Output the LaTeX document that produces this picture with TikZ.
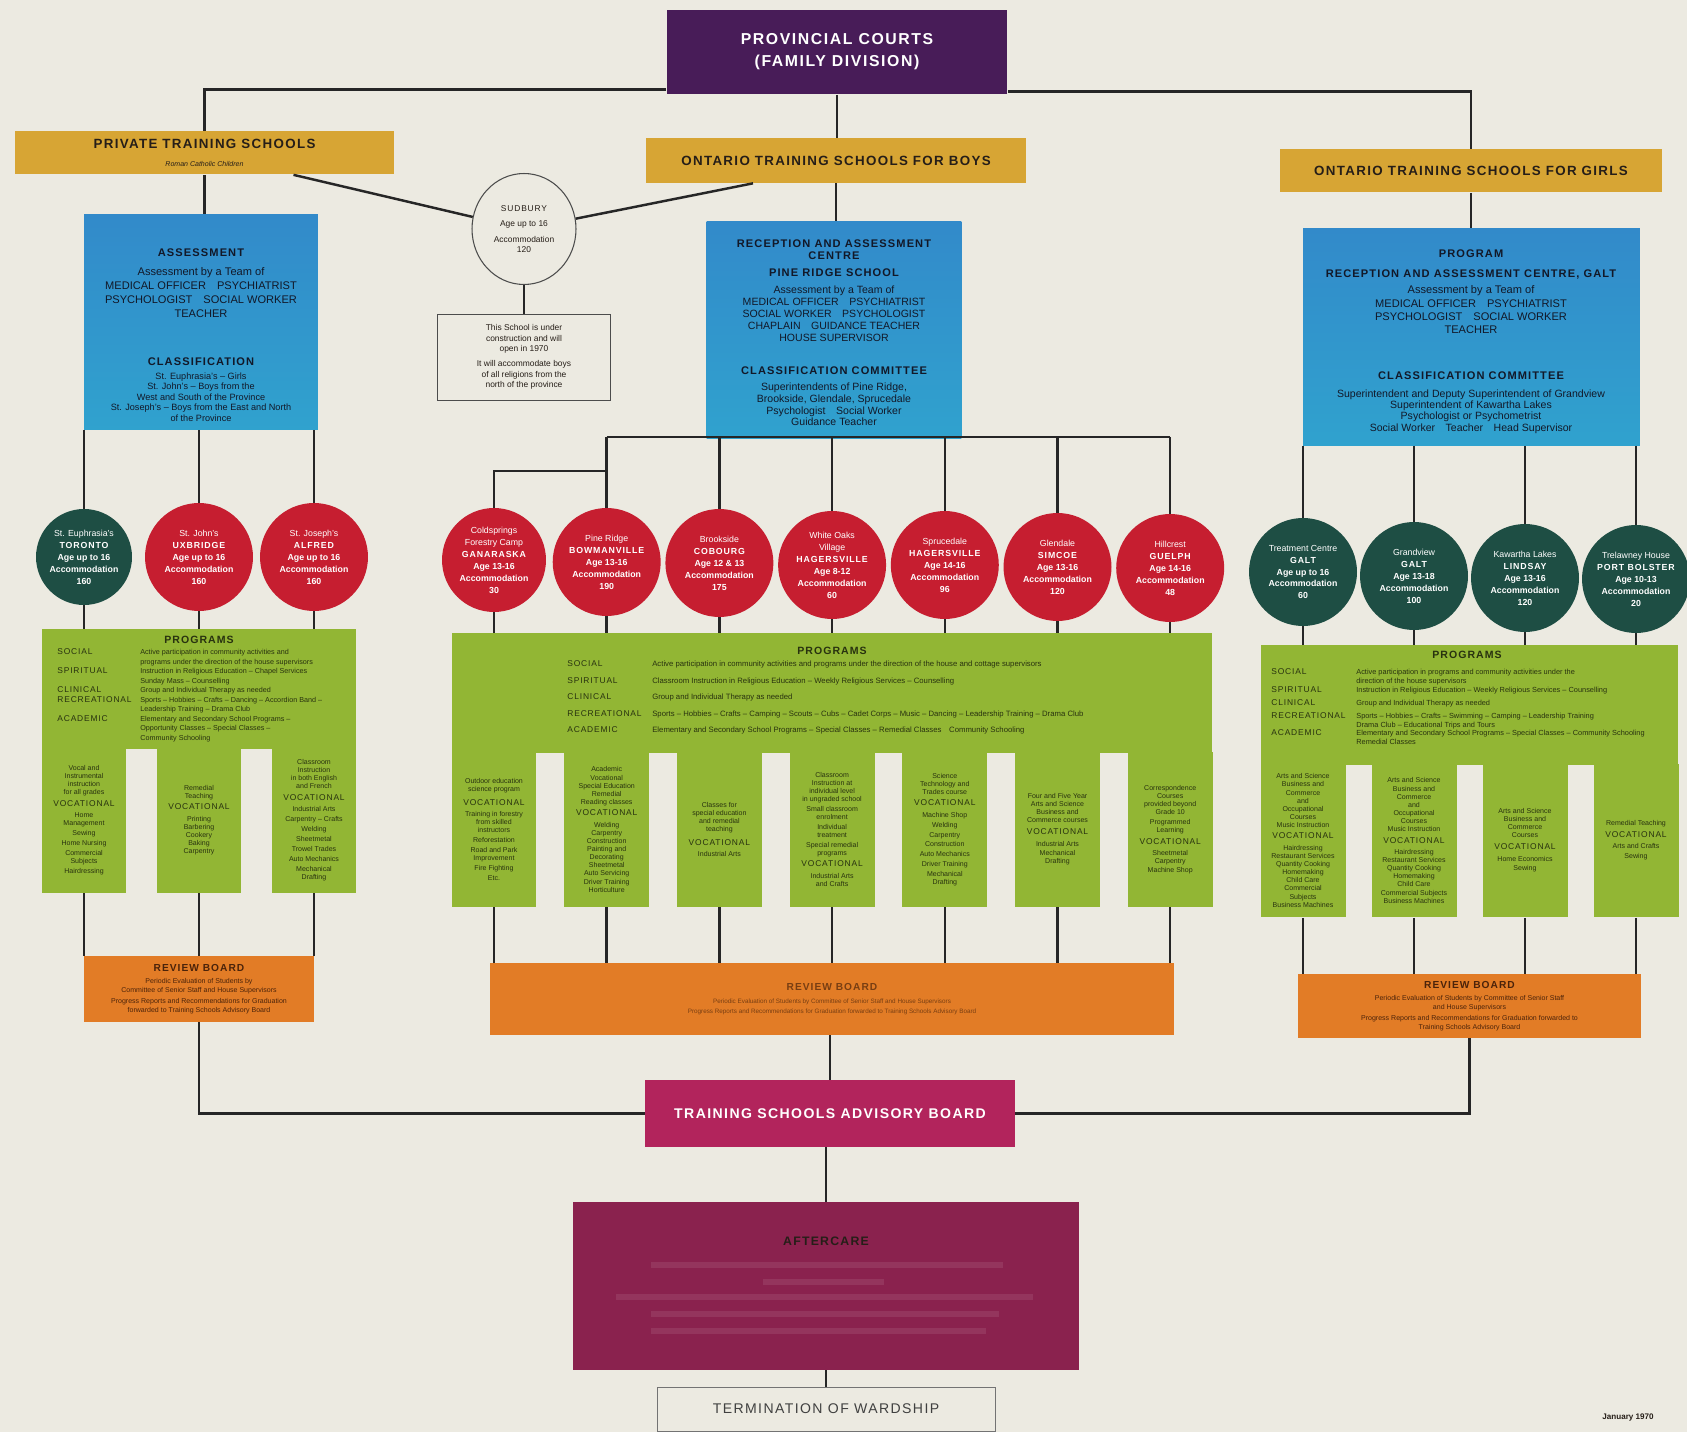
\documentclass[tikz,border=0pt]{standalone}
\usepackage{fontspec}
\setmainfont{Liberation Sans}
\newfontfamily\spaced[LetterSpace=10]{Liberation Sans}
\usepackage{xcolor}
\usepackage{array}
\usepackage{tikz}
\usetikzlibrary{arrows,backgrounds,calc,shapes.geometric}

\definecolor{paper}{RGB}{236,234,225}
\definecolor{courts}{RGB}{72,28,88}
\definecolor{gold}{RGB}{215,165,52}
\definecolor{blueA}{RGB}{50,138,202}
\definecolor{blueB}{RGB}{48,162,206}
\definecolor{schoolred}{RGB}{198,30,48}
\definecolor{schoolgreen}{RGB}{30,78,68}
\definecolor{progreen}{RGB}{146,182,52}
\definecolor{review}{RGB}{226,124,38}
\definecolor{advisory}{RGB}{178,36,92}
\definecolor{aftercare}{RGB}{138,34,78}
\definecolor{ink}{RGB}{38,30,24}
\definecolor{blueink}{RGB}{18,24,40}
\definecolor{greenink}{RGB}{40,50,15}
\definecolor{brownink}{RGB}{75,35,10}

\newcommand{\setfs}[2]{\fontsize{#1}{#2}\selectfont}
\newcommand{\boxhead}[1]{{\spaced\bfseries\setfs{6.3}{7.5}#1}}
\newcommand{\placename}[1]{{\spaced\setfs{5}{6.8}#1}}
\newcommand{\vocline}{{\spaced\setfs{4.8}{5.4}VOCATIONAL}}
\newcommand{\progtitle}{{\spaced\bfseries\setfs{6}{7}PROGRAMS}}
\newcommand{\revtitle}{{\spaced\bfseries\setfs{5.8}{7}REVIEW BOARD}}

\begin{document}
\begin{tikzpicture}[x=0.02cm,y=-0.02cm,
  link/.style={line width=1.4pt,draw=black!85},
  courtbox/.style={fill=courts,text=white,minimum width=6.82cm,minimum height=1.7cm,align=center,font=\spaced\bfseries\setfs{9}{12.5}},
  headbox/.style={fill=gold,text=ink,minimum height=0.86cm,inner sep=1pt,align=center,font=\spaced\bfseries\setfs{7.6}{9}},
  assessbox/.style={top color=blueA,bottom color=blueB,inner sep=0pt},
  bluetext/.style={text=blueink,align=center,inner sep=0pt,anchor=north},
  school/.style={circle,minimum size=2.16cm,inner sep=0pt,text=white,align=center,font=\bfseries\setfs{5}{6.8}},
  redschool/.style={school,fill=schoolred},
  greenschool/.style={school,fill=schoolgreen},
  progblock/.style={fill=progreen,inner sep=0pt,minimum height=2.4cm},
  progcol/.style={fill=progreen,inner sep=0pt,text=greenink,align=center,minimum width=1.7cm,font=\setfs{4}{4.6}},
  progtable/.style={anchor=north west,inner sep=0pt,text=greenink},
  reviewbox/.style={fill=review,text=brownink,align=center,inner sep=0pt,font=\setfs{4}{5}},
  outline/.style={draw=black!70,line width=0.5pt,fill=paper}
]
\useasboundingbox (0,0) rectangle (1687,1432);
\fill[paper] (0,0) rectangle (1687,1432);

\node[courtbox] (courts) at (837,52) {PROVINCIAL COURTS\\(FAMILY DIVISION)};
\node[headbox,minimum width=7.58cm] (private) at (204.5,153) {PRIVATE TRAINING SCHOOLS\\[1pt]{\normalfont\itshape\setfs{4}{5}Roman Catholic Children}};
\node[headbox,minimum width=7.6cm,minimum height=0.9cm] (boys) at (836,160.5) {ONTARIO TRAINING SCHOOLS FOR BOYS};
\node[headbox,minimum width=7.64cm] (girls) at (1471,171) {ONTARIO TRAINING SCHOOLS FOR GIRLS};

\node[ellipse,outline,line width=0.6pt,minimum width=2.08cm,minimum height=2.22cm,inner sep=0pt,align=center,text=ink,font=\setfs{4.8}{5.8}] (sudbury) at (524,229) {{\spaced SUDBURY}\\[3pt]Age up to 16\\[3pt]Accommodation\\120};
\node[outline,minimum width=3.46cm,minimum height=1.72cm,align=center,text=ink,font=\setfs{4.8}{6}] (note) at (524,357) {This School is under\\construction and will\\open in 1970\\[2.5pt]It will accommodate boys\\of all religions from the\\north of the province};

\node[assessbox,minimum width=4.68cm,minimum height=4.32cm] (assessL) at (201,322) {};
\node[bluetext,font=\setfs{6.3}{8}] (assessLtxt) at (201,248) {\boxhead{ASSESSMENT}\\[3pt]Assessment by a Team of\\MEDICAL OFFICER\quad PSYCHIATRIST\\PSYCHOLOGIST\quad SOCIAL WORKER\\TEACHER};
\node[bluetext,font=\setfs{5.2}{6}] (classLtxt) at (201,357) {\boxhead{CLASSIFICATION}\\[2pt]St. Euphrasia's – Girls\\St. John's – Boys from the\\West and South of the Province\\St. Joseph's – Boys from the East and North\\of the Province};

\node[assessbox,minimum width=5.1cm,minimum height=4.36cm] (assessC) at (834,330) {};
\node[bluetext,font=\setfs{6}{6.8}] (assessCtxt) at (834,239) {\boxhead{RECEPTION AND ASSESSMENT}\\\boxhead{CENTRE}\\[3pt]\boxhead{PINE RIDGE SCHOOL}\\[3pt]Assessment by a Team of\\MEDICAL OFFICER\quad PSYCHIATRIST\\SOCIAL WORKER\quad PSYCHOLOGIST\\CHAPLAIN\quad GUIDANCE TEACHER\\HOUSE SUPERVISOR};
\node[bluetext,font=\setfs{6}{6.6}] (classCtxt) at (834,366) {\boxhead{CLASSIFICATION COMMITTEE}\\[3pt]Superintendents of Pine Ridge,\\Brookside, Glendale, Sprucedale\\Psychologist\quad Social Worker\\Guidance Teacher};

\node[assessbox,minimum width=6.74cm,minimum height=4.34cm] (assessR) at (1471.5,337) {};
\node[bluetext,font=\setfs{6.3}{7.5}] (assessRtxt) at (1471,249) {\boxhead{PROGRAM}\\[4pt]\boxhead{RECEPTION AND ASSESSMENT CENTRE, GALT}\\[2pt]Assessment by a Team of\\MEDICAL OFFICER\quad PSYCHIATRIST\\PSYCHOLOGIST\quad SOCIAL WORKER\\TEACHER};
\node[bluetext,font=\setfs{6}{6.4}] (classRtxt) at (1471,371) {\boxhead{CLASSIFICATION COMMITTEE}\\[4pt]Superintendent and Deputy Superintendent of Grandview\\Superintendent of Kawartha Lakes\\Psychologist or Psychometrist\\Social Worker\quad Teacher\quad Head Supervisor};

\node[greenschool,minimum size=1.92cm] (euphrasia) at (84,557) {{\mdseries St. Euphrasia's}\\\placename{TORONTO}\\Age up to 16\\Accommodation\\160};
\node[redschool] (john) at (199,557) {{\mdseries St. John's}\\\placename{UXBRIDGE}\\Age up to 16\\Accommodation\\160};
\node[redschool] (joseph) at (314,557) {{\mdseries St. Joseph's}\\\placename{ALFRED}\\Age up to 16\\Accommodation\\160};

\node[redschool,minimum size=2.08cm] (cold) at (494,560) {{\mdseries Coldsprings}\\{\mdseries Forestry Camp}\\\placename{GANARASKA}\\Age 13-16\\Accommodation\\30};
\node[redschool] (pine) at (606.7,562) {{\mdseries Pine Ridge}\\\placename{BOWMANVILLE}\\Age 13-16\\Accommodation\\190};
\node[redschool] (brook) at (719.4,563) {{\mdseries Brookside}\\\placename{COBOURG}\\Age 12 \& 13\\Accommodation\\175};
\node[redschool] (oaks) at (832.1,565) {{\mdseries White Oaks}\\{\mdseries Village}\\\placename{HAGERSVILLE}\\Age 8-12\\Accommodation\\60};
\node[redschool] (spruce) at (944.8,565) {{\mdseries Sprucedale}\\\placename{HAGERSVILLE}\\Age 14-16\\Accommodation\\96};
\node[redschool] (glen) at (1057.5,567) {{\mdseries Glendale}\\\placename{SIMCOE}\\Age 13-16\\Accommodation\\120};
\node[redschool] (hill) at (1170.2,568) {{\mdseries Hillcrest}\\\placename{GUELPH}\\Age 14-16\\Accommodation\\48};

\node[greenschool] (treat) at (1303,572) {{\mdseries Treatment Centre}\\\placename{GALT}\\Age up to 16\\Accommodation\\60};
\node[greenschool] (grand) at (1414,576) {{\mdseries Grandview}\\\placename{GALT}\\Age 13-18\\Accommodation\\100};
\node[greenschool] (kawartha) at (1525,578) {{\mdseries Kawartha Lakes}\\\placename{LINDSAY}\\Age 13-16\\Accommodation\\120};
\node[greenschool] (trelawney) at (1636,579) {{\mdseries Trelawney House}\\\placename{PORT BOLSTER}\\Age 10-13\\Accommodation\\20};

\node[progblock,minimum width=6.3cm] (progL) at (199,689) {};
\node[progcol,minimum height=2.92cm] (colL1) at (84,820) {Vocal and\\Instrumental\\instruction\\for all grades\\[2pt]\vocline\\[2pt]Home\\Management\\[1pt]Sewing\\[1pt]Home Nursing\\[1pt]Commercial\\Subjects\\[1pt]Hairdressing};
\node[progcol,minimum height=2.92cm] (colL2) at (199,820) {Remedial\\Teaching\\[2pt]\vocline\\[2pt]Printing\\Barbering\\Cookery\\Baking\\Carpentry};
\node[progcol,minimum height=2.92cm] (colL3) at (314,820) {Classroom\\Instruction\\in both English\\and French\\[2pt]\vocline\\[2pt]Industrial Arts\\[1pt]Carpentry – Crafts\\[1pt]Welding\\[1pt]Sheetmetal\\[1pt]Trowel Trades\\[1pt]Auto Mechanics\\[1pt]Mechanical\\Drafting};
\node[text=greenink,inner sep=0pt] (progLtitle) at (199,640) {\progtitle};
\node[progtable,font=\setfs{4.1}{5.4}] (tabL) at (57,648) {%
\begin{tabular}{@{}>{\spaced\setfs{4.8}{5.4}}p{1.66cm}@{}>{\raggedright\arraybackslash}p{4.3cm}@{}}
SOCIAL & Active participation in community activities and\newline programs under the direction of the house supervisors\\
SPIRITUAL & Instruction in Religious Education – Chapel Services\newline Sunday Mass – Counselling\\
CLINICAL & Group and Individual Therapy as needed\\
RECREATIONAL & Sports – Hobbies – Crafts – Dancing – Accordion Band –\newline Leadership Training – Drama Club\\
ACADEMIC & Elementary and Secondary School Programs –\newline Opportunity Classes – Special Classes –\newline Community Schooling
\end{tabular}};

\node[progblock,minimum width=15.22cm] (progC) at (832,693) {};
\node[progcol,minimum height=3.1cm] (colC1) at (494,829.5) {Outdoor education\\science program\\[3pt]\vocline\\[2pt]Training in forestry\\from skilled\\instructors\\[1pt]Reforestation\\[1pt]Road and Park\\Improvement\\[1pt]Fire Fighting\\[1pt]Etc.};
\node[progcol,minimum height=3.1cm] (colC2) at (606.7,829.5) {Academic\\Vocational\\Special Education\\Remedial\\Reading classes\\[2pt]\vocline\\[2pt]Welding\\Carpentry\\Construction\\Painting and\\Decorating\\Sheetmetal\\Auto Servicing\\Driver Training\\Horticulture};
\node[progcol,minimum height=3.1cm] (colC3) at (719.4,829.5) {Classes for\\special education\\and remedial\\teaching\\[3pt]\vocline\\[2pt]Industrial Arts};
\node[progcol,minimum height=3.1cm] (colC4) at (832.1,829.5) {Classroom\\Instruction at\\individual level\\in ungraded school\\[1pt]Small classroom\\enrolment\\[1pt]Individual\\treatment\\[1pt]Special remedial\\programs\\[2pt]\vocline\\[2pt]Industrial Arts\\and Crafts};
\node[progcol,minimum height=3.1cm] (colC5) at (944.8,829.5) {Science\\Technology and\\Trades course\\[2pt]\vocline\\[2pt]Machine Shop\\[1pt]Welding\\[1pt]Carpentry\\[1pt]Construction\\[1pt]Auto Mechanics\\[1pt]Driver Training\\[1pt]Mechanical\\Drafting};
\node[progcol,minimum height=3.1cm] (colC6) at (1057.5,829.5) {Four and Five Year\\Arts and Science\\Business and\\Commerce courses\\[2pt]\vocline\\[2pt]Industrial Arts\\[1pt]Mechanical\\Drafting};
\node[progcol,minimum height=3.1cm] (colC7) at (1170.2,829.5) {Correspondence\\Courses\\provided beyond\\Grade 10\\[1pt]Programmed\\Learning\\[2pt]\vocline\\[2pt]Sheetmetal\\Carpentry\\Machine Shop};
\node[text=greenink,inner sep=0pt] (progCtitle) at (832,651) {\progtitle};
\node[progtable,font=\setfs{4.4}{9.4}] (tabC) at (567,655) {%
\begin{tabular}{@{}>{\spaced\setfs{4.8}{9.4}}p{1.7cm}@{}l@{}}
SOCIAL & Active participation in community activities and programs under the direction of the house and cottage supervisors\\
SPIRITUAL & Classroom Instruction in Religious Education – Weekly Religious Services – Counselling\\
CLINICAL & Group and Individual Therapy as needed\\
RECREATIONAL & Sports – Hobbies – Crafts – Camping – Scouts – Cubs – Cadet Corps – Music – Dancing – Leadership Training – Drama Club\\
ACADEMIC & Elementary and Secondary School Programs – Special Classes – Remedial Classes\quad Community Schooling
\end{tabular}};

\node[progblock,minimum width=8.36cm] (progR) at (1469.5,705) {};
\node[progcol,minimum height=3.08cm] (colR1) at (1303,840.5) {Arts and Science\\Business and\\Commerce\\and\\Occupational\\Courses\\Music Instruction\\[2pt]\vocline\\[2pt]Hairdressing\\Restaurant Services\\Quantity Cooking\\Homemaking\\Child Care\\Commercial\\Subjects\\Business Machines};
\node[progcol,minimum height=3.08cm] (colR2) at (1414,840.5) {Arts and Science\\Business and\\Commerce\\and\\Occupational\\Courses\\Music Instruction\\[2pt]\vocline\\[2pt]Hairdressing\\Restaurant Services\\Quantity Cooking\\Homemaking\\Child Care\\Commercial Subjects\\Business Machines};
\node[progcol,minimum height=3.08cm] (colR3) at (1525,840.5) {Arts and Science\\Business and\\Commerce\\Courses\\[2pt]\vocline\\[2pt]Home Economics\\[1pt]Sewing};
\node[progcol,minimum height=3.08cm] (colR4) at (1636,840.5) {Remedial Teaching\\[2pt]\vocline\\[2pt]Arts and Crafts\\[1pt]Sewing};
\node[text=greenink,inner sep=0pt] (progRtitle) at (1467,655) {\progtitle};
\node[progtable,font=\setfs{4.2}{5}] (tabR) at (1271,668) {%
\begin{tabular}{@{}>{\spaced\setfs{4.8}{5}}p{1.7cm}@{}>{\raggedright\arraybackslash}p{6.3cm}@{}}
SOCIAL & Active participation in programs and community activities under the\newline direction of the house supervisors\\[2.5pt]
SPIRITUAL & Instruction in Religious Education – Weekly Religious Services – Counselling\\[2.5pt]
CLINICAL & Group and Individual Therapy as needed\\[2.5pt]
RECREATIONAL & Sports – Hobbies – Crafts – Swimming – Camping – Leadership Training\newline Drama Club – Educational Trips and Tours\\[2.5pt]
ACADEMIC & Elementary and Secondary School Programs – Special Classes – Community Schooling\newline Remedial Classes
\end{tabular}};

\node[reviewbox,minimum width=4.6cm,minimum height=1.32cm] (reviewL) at (199,989) {\revtitle\\[2pt]Periodic Evaluation of Students by\\Committee of Senior Staff and House Supervisors\\[1.5pt]Progress Reports and Recommendations for Graduation\\forwarded to Training Schools Advisory Board};
\node[reviewbox,minimum width=13.68cm,minimum height=1.44cm,font=\setfs{3.6}{5.4},text=brownink!70!review] (reviewC) at (832,999) {\revtitle\\[2pt]Periodic Evaluation of Students by Committee of Senior Staff and House Supervisors\\Progress Reports and Recommendations for Graduation forwarded to Training Schools Advisory Board};
\node[reviewbox,minimum width=6.88cm,minimum height=1.28cm] (reviewR) at (1469.5,1006) {\revtitle\\[2pt]Periodic Evaluation of Students by Committee of Senior Staff\\and House Supervisors\\[1.5pt]Progress Reports and Recommendations for Graduation forwarded to\\Training Schools Advisory Board};

\node[fill=advisory,text=white,minimum width=7.4cm,minimum height=1.34cm,font=\spaced\bfseries\setfs{8}{9}] (advisory) at (830,1113.5) {TRAINING SCHOOLS ADVISORY BOARD};
\node[fill=aftercare,minimum width=10.14cm,minimum height=3.36cm] (aftercare) at (826,1286) {};
\node[text=ink,font=\spaced\bfseries\setfs{7}{8}] (aftercaretitle) at (826,1241) {AFTERCARE};
\fill[white,opacity=0.09] (651,1262) rectangle (1003,1268);
\fill[white,opacity=0.09] (763,1279) rectangle (884,1285);
\fill[white,opacity=0.09] (616,1294) rectangle (1033,1300);
\fill[white,opacity=0.09] (651,1311) rectangle (999,1317);
\fill[white,opacity=0.09] (651,1328) rectangle (986,1334);
\node[outline,draw=black!55,minimum width=6.76cm,minimum height=0.88cm,text=black!75,font=\spaced\setfs{8}{9}] (termination) at (826,1409) {TERMINATION OF WARDSHIP};
\node[text=ink,font=\bfseries\setfs{4.6}{5}] (date) at (1628,1418) {January 1970};

\draw[link] ([yshift=3pt]courts.south west) -| (private.north);
\draw[link] (courts.south) -- (courts.south |- boys.north);
\draw[link] ([yshift=2pt]courts.south east) -| (girls.north);
\draw[link] (private.south) -- (private.south |- assessL.north);
\draw[link] (boys.south) -- (boys.south |- assessC.north);
\draw[link] (girls.south) -- (girls.south |- assessR.north);
\draw[link] ($(private.south)+(89,0)$) -- (sudbury);
\draw[link] ($(boys.south)+(-83,0)$) -- (sudbury);
\draw[link] (sudbury.south) -- (note.north);

\foreach \s in {euphrasia,john,joseph} \draw[link] (assessL.south -| \s.north) -- (\s.north);
\coordinate (busC) at (0,437);
\coordinate (busD) at (0,471);
\draw[link] (pine.north |- busC) -- (hill.north |- busC);
\foreach \s in {pine,brook,oaks,spruce,glen,hill} \draw[link] (\s.north |- busC) -- (\s.north);
\draw[link] (cold.north) |- (pine.north |- busD);
\foreach \s in {treat,grand,kawartha,trelawney} \draw[link] (assessR.south -| \s.north) -- (\s.north);

\foreach \s in {euphrasia,john,joseph} \draw[link] (\s.south) -- (\s.south |- progL.north);
\foreach \s in {cold,pine,brook,oaks,spruce,glen,hill} \draw[link] (\s.south) -- (\s.south |- progC.north);
\foreach \s in {treat,grand,kawartha,trelawney} \draw[link] (\s.south) -- (\s.south |- progR.north);

\foreach \i in {1,2,3} \draw[link] (colL\i.south) -- (colL\i.south |- reviewL.north);
\foreach \i in {1,...,7} \draw[link] (colC\i.south) -- (colC\i.south |- reviewC.north);
\foreach \i in {1,...,4} \draw[link] (colR\i.south) -- (colR\i.south |- reviewR.north);

\draw[link] (reviewL.south) |- (advisory.west);
\draw[link] (advisory.north |- reviewC.south) -- (advisory.north);
\draw[link] (reviewR.south) |- (advisory.east);
\draw[link] (aftercare.north |- advisory.south) -- (aftercare.north);
\draw[link] (aftercare.south) -- (termination.north);
\end{tikzpicture}
\end{document}
